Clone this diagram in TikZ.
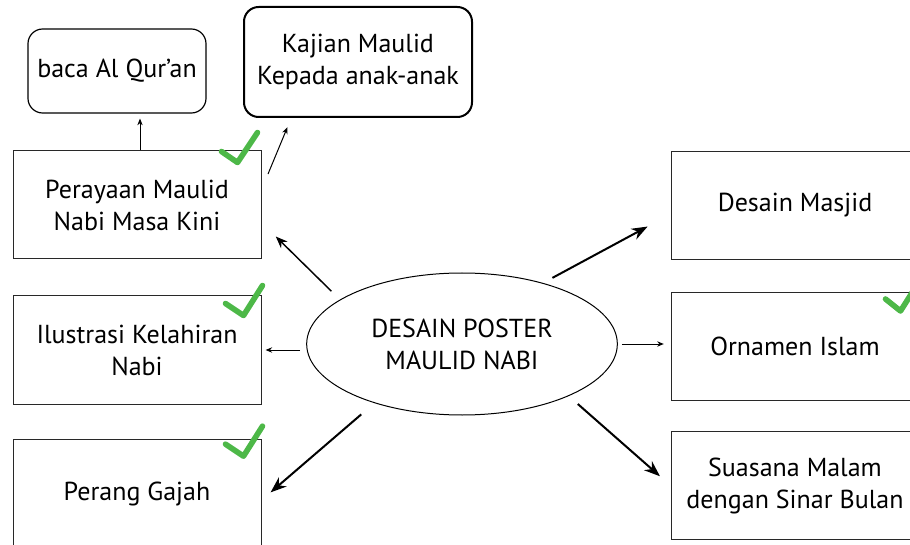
\documentclass[tikz,border=0pt]{standalone}
\usepackage{fontspec}
\setmainfont{PT Sans}
\usepackage{tikz}
\usetikzlibrary{arrows.meta,positioning,shapes.geometric,calc}
\definecolor{tickgreen}{RGB}{77,184,72}
\definecolor{edgegray}{RGB}{40,40,40}

\begin{document}
\begin{tikzpicture}[
  x=0.75pt, y=-0.75pt,
  font=\fontsize{19.5}{24}\selectfont,
  box/.style={draw=edgegray, line width=0.75pt, minimum width=186pt, minimum height=81pt, align=center, inner sep=0pt},
  rbox/.style={draw=black, line width=0.9pt, rounded corners=11pt, align=center, inner sep=0pt},
  arrthin/.style={-{Stealth[length=5pt,width=4pt]}, line width=0.75pt},
  arrmid/.style={-{Stealth[length=9pt,width=7pt]}, line width=1.1pt},
  arrbig/.style={-{Stealth[length=12pt,width=9pt]}, line width=1.5pt},
  tick/.style={tickgreen, line width=4.2pt, line cap=round, line join=round}
]
\clip (0,0) rectangle (910,545);

% centre
\node[ellipse, draw, line width=0.75pt, minimum width=233pt, minimum height=106.5pt, inner sep=0pt, align=center] (ell) at (462,344) {DESAIN POSTER\\MAULID NABI};

% left column
\node[box] (pera) at (137,205) {Perayaan Maulid\\Nabi Masa Kini};
\node[box, below=27pt of pera] (ilus) {Ilustrasi Kelahiran\\Nabi};
\node[box, below=26pt of ilus] (perang) {Perang Gajah};

% top
\node[rbox, minimum width=133.5pt, minimum height=63pt] (baca) at (117,71) {baca Al Qur'an};
\node[rbox, line width=1.5pt, minimum width=171pt, minimum height=82.5pt] (kaj) at (358,62) {Kajian Maulid\\Kepada anak-anak};

% right column
\node[box] (desain) at (795,205.5) {Desain Masjid};
\node[box, below=24pt of desain] (orn) {Ornamen Islam};
\node[box, below=22.5pt of orn] (suas) {Suasana Malam\\dengan Sinar Bulan};

% arrows
\draw[arrthin, shorten >=3.75pt] ([xshift=2.25pt]pera.north) -- ([xshift=2.25pt]pera.north |- baca.south);
\draw[arrthin, shorten <=12.75pt, shorten >=7.5pt] (pera.7.5) -- (kaj.220);
\draw[arrmid, shorten <=9pt, shorten >=15pt] (ell.160) -- (pera.-8);
\draw[arrthin, shorten <=4.5pt, shorten >=3pt] (ilus.east -| ell.west) -- (ilus.east);
\draw[arrbig, shorten <=13pt, shorten >=9pt] (ell.214) -- (perang.-3.5);
\draw[arrbig, shorten <=8pt, shorten >=19.5pt] (ell.37.5) -- (desain.184);
\draw[arrthin, shorten <=3pt, shorten >=5pt] (ell.east) -- (ell.east -| orn.west);
\draw[arrbig, shorten <=9pt, shorten >=10.5pt] (ell.-26.2) -- (suas.west);

% ticks
\draw[tick] ([shift={(-40,1)}]pera.north east) -- ++(16,11) -- ++(20,-30);
\draw[tick] ([shift={(-36,8)}]ilus.north east) -- ++(18,12) -- ++(19,-30);
\draw[tick] ([shift={(-36,5)}]perang.north east) -- ++(18,12) -- ++(19,-30);
\draw[tick] ([shift={(-34,7)}]orn.north east) -- ++(15,12) -- ++(19,-30);
\end{tikzpicture}
\end{document}
